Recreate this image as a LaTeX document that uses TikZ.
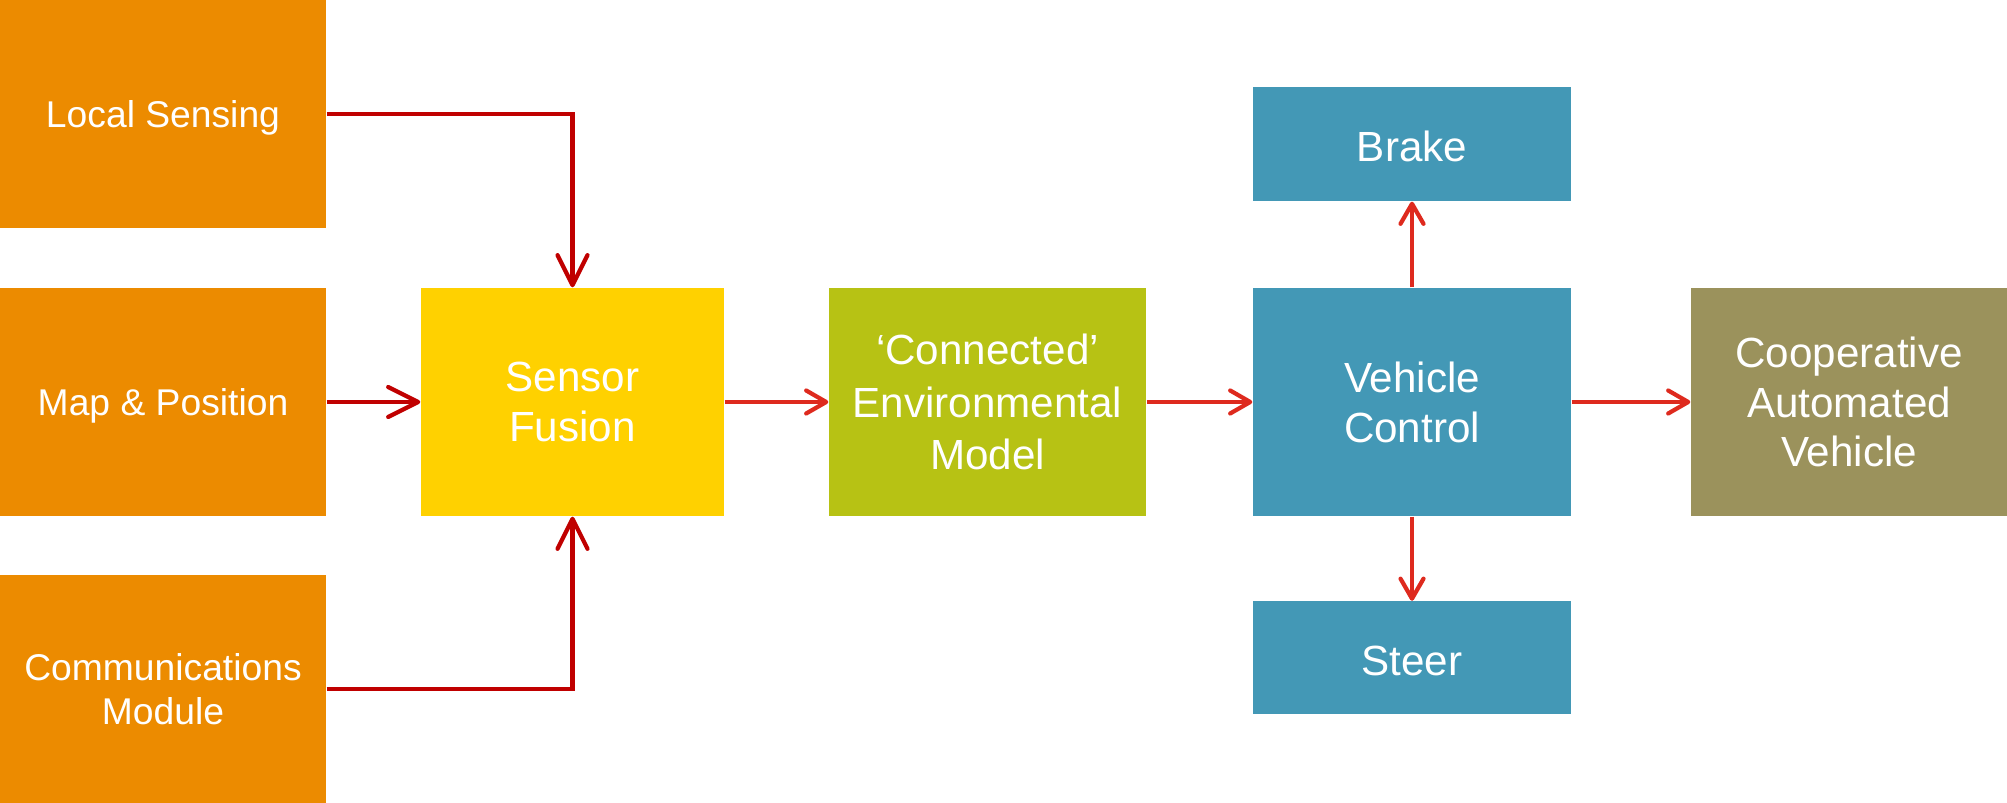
\documentclass[tikz,border=0pt]{standalone}
\usepackage{fontspec}
\setmainfont{Liberation Sans}
\usetikzlibrary{arrows.meta}

\definecolor{inorange}{HTML}{EC8B00}
\definecolor{fusionyellow}{HTML}{FFD100}
\definecolor{modelgreen}{HTML}{B7C214}
\definecolor{ctrlblue}{HTML}{4398B6}
\definecolor{cavolive}{HTML}{9B925C}
\definecolor{darkarrow}{HTML}{C00000}
\definecolor{lightarrow}{HTML}{DE2A1E}

\begin{document}
\begin{tikzpicture}[
  blk/.style={fill=#1, text=white, inner sep=0pt, align=center,
    minimum width=3.17cm, minimum height=2.28cm,
    font=\fontsize{12pt}{14.2pt}\selectfont},
  inblk/.style={blk=inorange, minimum width=3.26cm,
    font=\fontsize{10.6pt}{12.6pt}\selectfont},
  oneline/.style={text depth=0pt},
  actblk/.style={blk=ctrlblue, oneline, text height=0.36cm,
    minimum width=3.18cm, minimum height=1.13cm},
  flowin/.style={darkarrow, line width=1.2pt,
    -{Straight Barb[length=0.3cm, width=0.3cm, round]}},
  flowout/.style={lightarrow, line width=1.2pt,
    -{Straight Barb[length=0.2cm, width=0.23cm, round]}}
]
\useasboundingbox (0, 0) rectangle (20.07, 8.03);

\node (ls) at (1.63, 6.89) [inblk, oneline] {Local Sensing};
\node (mp) at (1.63, 4.01) [inblk, oneline] {Map \& Position};
\node (cm) at (1.63, 1.14) [inblk] {Communications\\Module};
\node (sf) at (5.725, 4.01) [blk=fusionyellow, minimum width=3.03cm] {Sensor\\Fusion};
\node (em) at (9.875, 4.01) [blk=modelgreen, font=\fontsize{12pt}{15pt}\selectfont] {‘Connected’\\Environmental\\Model};
\node (vc) at (14.12, 4.01) [blk=ctrlblue, minimum width=3.18cm] {Vehicle\\Control};
\node (br) at (14.12, 6.59) [actblk, minimum height=1.14cm] {Brake};
\node (st) at (14.12, 1.45) [actblk] {Steer};
\node (av) at (18.49, 4.01) [blk=cavolive, minimum width=3.16cm] {Cooperative\\Automated\\Vehicle};

\draw [flowin] (ls.east) -| (sf.north);
\draw [flowin] (mp.east) -- (sf.west);
\draw [flowin] (cm.east) -| (sf.south);
\draw [flowout] (sf.east) -- (em.west);
\draw [flowout] (em.east) -- (vc.west);
\draw [flowout] (vc.north) -- (br.south);
\draw [flowout] (vc.south) -- (st.north);
\draw [flowout] (vc.east) -- (av.west);
\end{tikzpicture}
\end{document}
